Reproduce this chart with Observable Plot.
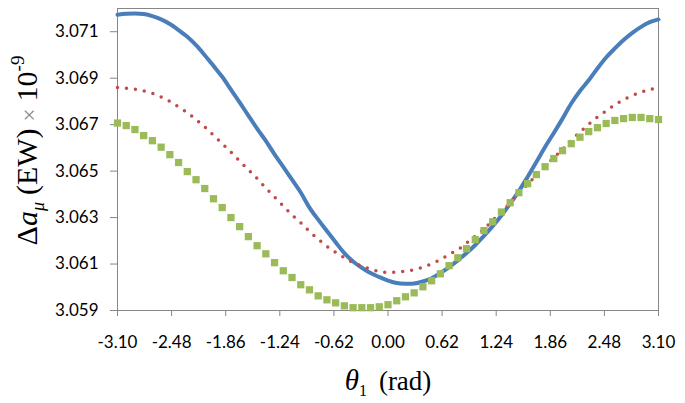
<!DOCTYPE html>
<html><head><meta charset="utf-8">
<script src="https://cdn.jsdelivr.net/npm/d3@7"></script>
<script src="https://cdn.jsdelivr.net/npm/@observablehq/plot@0.6"></script>
<style>body{margin:0;background:#fff} #chart svg{display:block}</style>
</head><body><div id="chart"></div>
<script>
const theta = [-3.1,-3.0,-2.9,-2.8,-2.7,-2.6,-2.5,-2.4,-2.3,-2.2,-2.1,-2.0,-1.9,-1.8,-1.7,-1.6,-1.5,-1.4,-1.3,-1.2,-1.1,-1.0,
  -0.9,-0.8,-0.7,-0.6,-0.5,-0.4,-0.3,-0.2,-0.1,0.0,0.1,0.2,0.3,0.4,0.5,0.6,0.7,0.8,0.9,1.0,
  1.1,1.2,1.3,1.4,1.5,1.6,1.7,1.8,1.9,2.0,2.1,2.2,2.3,2.4,2.5,2.6,2.7,2.8,2.9,3.0,3.1];
const seriesBlue = [3.07173,3.07177,3.07179,3.07176,3.07167,3.07153,3.07133,3.07107,3.07078,3.07042,3.06999,3.06953,3.06906,3.06851,3.06796,3.06739,3.06683,3.06630,3.06572,3.06518,3.06463,3.06408,
  3.06343,3.06291,3.06242,3.06194,3.06147,3.06111,3.06084,3.06061,3.06044,3.06029,3.06018,3.06015,3.06016,3.06025,3.06039,3.06061,3.06087,3.06116,3.06147,3.06182,
  3.06221,3.06263,3.06309,3.06360,3.06414,3.06475,3.06539,3.06604,3.06664,3.06726,3.06791,3.06845,3.06891,3.06942,3.06989,3.07028,3.07064,3.07095,3.07121,3.07141,3.07153];
const seriesRed = [3.06860,3.06857,3.06853,3.06845,3.06835,3.06819,3.06800,3.06776,3.06752,3.06722,3.06690,3.06654,3.06618,3.06582,3.06543,3.06506,3.06468,3.06427,3.06388,3.06350,3.06312,3.06278,
  3.06240,3.06207,3.06176,3.06150,3.06127,3.06107,3.06091,3.06078,3.06068,3.06064,3.06065,3.06069,3.06075,3.06087,3.06101,3.06119,3.06141,3.06162,3.06190,3.06220,
  3.06251,3.06288,3.06324,3.06364,3.06406,3.06443,3.06482,3.06521,3.06558,3.06593,3.06633,3.06668,3.06702,3.06733,3.06759,3.06785,3.06808,3.06825,3.06840,3.06851,3.06858];
const seriesGreen = [3.06707,3.06696,3.06679,3.06653,3.06631,3.06603,3.06571,3.06537,3.06498,3.06463,3.06425,3.06381,3.06343,3.06300,3.06261,3.06218,3.06179,3.06144,3.06106,3.06071,3.06042,3.06011,
  3.05989,3.05963,3.05946,3.05933,3.05920,3.05912,3.05912,3.05912,3.05916,3.05925,3.05942,3.05959,3.05976,3.06002,3.06028,3.06058,3.06093,3.06127,3.06166,3.06205,
  3.06244,3.06282,3.06324,3.06364,3.06407,3.06446,3.06485,3.06519,3.06554,3.06588,3.06618,3.06646,3.06670,3.06687,3.06705,3.06718,3.06726,3.06731,3.06731,3.06726,3.06722];
const xTicks = [-3.10,-2.48,-1.86,-1.24,-0.62,0.00,0.62,1.24,1.86,2.48,3.10];
const yTicks = [3.059,3.061,3.063,3.065,3.067,3.069,3.071];

const rows = vals => theta.map((t, i) => ({t, v: vals[i]}));

const plot = Plot.plot({
  width: 685, height: 403,
  marginLeft: 117, marginRight: 27, marginTop: 8, marginBottom: 93,
  style: {fontFamily: "Lato", fontSize: "17px", color: "black", background: "white"},
  x: {domain: [-3.1, 3.1]},
  y: {domain: [3.059, 3.072]},
  marks: [
    Plot.frame({stroke: "#868686"}),
    Plot.axisX({ticks: xTicks, tickFormat: d => d.toFixed(2), tickSize: 6, tickPadding: 19, label: null, stroke: "#868686"}),
    Plot.axisY({ticks: yTicks, tickFormat: d => d.toFixed(3), tickSize: 7, tickPadding: 12, label: null, stroke: "#868686"}),
    Plot.line(rows(seriesBlue), {x: "t", y: "v", stroke: "#4A7EBB", strokeWidth: 4, curve: "catmull-rom"}),
    Plot.line(rows(seriesRed), {x: "t", y: "v", stroke: "#BE4B48", strokeWidth: 3.5, strokeDasharray: "0 9", strokeLinecap: "round", curve: "catmull-rom"}),
    Plot.dot(rows(seriesGreen), {x: "t", y: "v", symbol: "square", r: 4.1, fill: "#9BBB59", stroke: "none"})
  ]
});
document.getElementById("chart").appendChild(plot);

const svg = d3.select(plot);
const xt = svg.append("text")
  .attr("x", 388).attr("y", 390).attr("text-anchor", "middle")
  .style("font-family", "'Liberation Serif', serif").style("font-size", "27px").attr("fill", "black");
xt.append("tspan").attr("font-style", "italic").style("font-size", "29px").text("θ");
xt.append("tspan").style("font-size", "16px").attr("dy", 6).text("1");
xt.append("tspan").attr("dy", -6).attr("dx", 12).text("(rad)");

const yt = svg.append("text")
  .attr("transform", "translate(37,150.5) rotate(-90)").attr("text-anchor", "middle")
  .style("font-family", "'Liberation Serif', serif").style("font-size", "30px").attr("fill", "black");
yt.append("tspan").text("Δ");
yt.append("tspan").attr("font-style", "italic").text("a");
yt.append("tspan").attr("font-style", "italic").style("font-size", "18px").attr("dy", 7).text("μ");
yt.append("tspan").attr("dy", -7).attr("dx", 7).text("(EW)");
yt.append("tspan").attr("dx", 7).attr("fill", "#8a8a8a").style("font-size", "23px").text("×");
yt.append("tspan").attr("dx", 7).text("10");
yt.append("tspan").style("font-size", "19px").attr("dy", -13).text("-9");
</script>
</body></html>
